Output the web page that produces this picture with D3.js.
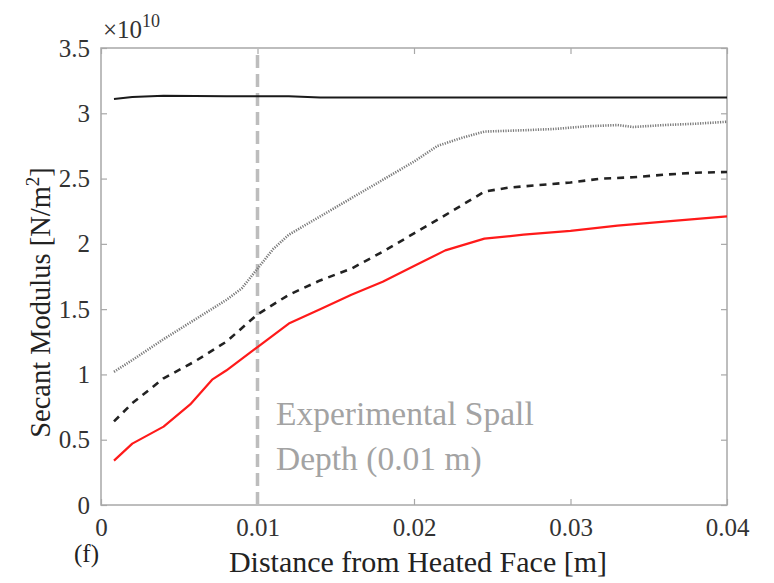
<!DOCTYPE html>
<html><head><meta charset="utf-8">
<script src="https://cdn.jsdelivr.net/npm/d3@7"></script>
<style>body{margin:0;background:#fff}svg{display:block}text{font-family:"Liberation Serif","Times New Roman",serif}</style>
</head><body><svg id="c" width="774" height="583"></svg>
<script>
const xTicks = [0, 0.01, 0.02, 0.03, 0.04];
const yTicks = [0, 0.5, 1, 1.5, 2, 2.5, 3, 3.5];
const xTickLabels = ["0", "0.01", "0.02", "0.03", "0.04"];
const yTickLabels = ["0", "0.5", "1", "1.5", "2", "2.5", "3", "3.5"];

const solidX = [0.00083, 0.002, 0.004, 0.008, 0.012, 0.014, 0.02, 0.03, 0.04];
const solidY = [3.11, 3.125, 3.135, 3.13, 3.13, 3.12, 3.12, 3.12, 3.12];

const dottedX = [0.00083, 0.002, 0.004, 0.006, 0.008, 0.009, 0.010, 0.011, 0.012, 0.014, 0.016, 0.018, 0.020, 0.0215, 0.023, 0.0245, 0.027, 0.029, 0.031, 0.033, 0.034, 0.036, 0.038, 0.040];
const dottedY = [1.02, 1.11, 1.27, 1.42, 1.57, 1.66, 1.81, 1.96, 2.07, 2.21, 2.35, 2.49, 2.63, 2.75, 2.81, 2.86, 2.87, 2.88, 2.90, 2.91, 2.895, 2.91, 2.92, 2.935];

const dashedX = [0.00083, 0.002, 0.004, 0.006, 0.008, 0.010, 0.012, 0.014, 0.016, 0.018, 0.020, 0.022, 0.0245, 0.026, 0.028, 0.030, 0.032, 0.034, 0.036, 0.038, 0.040];
const dashedY = [0.64, 0.78, 0.97, 1.10, 1.25, 1.46, 1.61, 1.72, 1.81, 1.94, 2.08, 2.22, 2.40, 2.43, 2.45, 2.47, 2.50, 2.51, 2.53, 2.545, 2.55];

const redX = [0.00083, 0.002, 0.004, 0.0057, 0.0071, 0.008, 0.010, 0.012, 0.014, 0.016, 0.018, 0.020, 0.022, 0.0245, 0.027, 0.030, 0.033, 0.036, 0.040];
const redY = [0.34, 0.47, 0.60, 0.77, 0.96, 1.03, 1.21, 1.39, 1.50, 1.61, 1.71, 1.83, 1.95, 2.04, 2.07, 2.10, 2.14, 2.17, 2.21];

const spallDepth = 0.01;

const L = 101, R = 727, T = 48, B = 505;
const svg = d3.select("#c");
const x = d3.scaleLinear().domain([0, 0.04]).range([L, R]);
const y = d3.scaleLinear().domain([0, 3.5]).range([B, T]);
const axisColor = "#a8a8a8";

// frame
svg.append("rect").attr("x", L).attr("y", T).attr("width", R - L).attr("height", B - T)
  .attr("fill", "none").attr("stroke", axisColor).attr("stroke-width", 1.5);

// axes
const gx = svg.append("g").attr("transform", `translate(0,${B})`)
  .call(d3.axisBottom(x).tickValues(xTicks).tickFormat((d, i) => xTickLabels[i]).tickSizeInner(-6).tickSizeOuter(0).tickPadding(13));
const gxt = svg.append("g").attr("transform", `translate(0,${T})`)
  .call(d3.axisTop(x).tickValues(xTicks).tickFormat("").tickSizeInner(-6).tickSizeOuter(0));
const gy = svg.append("g").attr("transform", `translate(${L},0)`)
  .call(d3.axisLeft(y).tickValues(yTicks).tickFormat((d, i) => yTickLabels[i]).tickSizeInner(-6).tickSizeOuter(0).tickPadding(11));
const gyr = svg.append("g").attr("transform", `translate(${R},0)`)
  .call(d3.axisRight(y).tickValues(yTicks).tickFormat("").tickSizeInner(-6).tickSizeOuter(0));
[gx, gxt, gy, gyr].forEach(g => {
  g.select(".domain").remove();
  g.selectAll(".tick line").attr("stroke", axisColor).attr("stroke-width", 1.2);
  g.selectAll(".tick text").attr("fill", "#333").style("font-size", "25px").style("font-family", "Liberation Serif, serif");
});

// spall depth line
svg.append("line").attr("x1", x(spallDepth)).attr("x2", x(spallDepth)).attr("y1", B).attr("y2", T)
  .attr("stroke", "#bdbdbd").attr("stroke-width", 3.5).attr("stroke-dasharray", "13,6");

const line = d3.line().x(d => x(d[0])).y(d => y(d[1])).curve(d3.curveLinear);
function series(xs, ys, color, w, dash) {
  const p = svg.append("path").datum(xs.map((v, i) => [v, ys[i]])).attr("d", line)
    .attr("fill", "none").attr("stroke", color).attr("stroke-width", w).attr("stroke-linejoin", "round");
  if (dash) p.attr("stroke-dasharray", dash);
}
series(solidX, solidY, "#1a1a1a", 2, null);
series(dottedX, dottedY, "#7a7a7a", 2.6, "1.2,1.3");
series(dashedX, dashedY, "#222", 2.6, "7,6");
series(redX, redY, "#ff1a1a", 2.2, null);

// annotation
svg.append("text").attr("x", 276).attr("y", 425).attr("fill", "#a3a3a3").style("font-size", "33.5px").text("Experimental Spall");
svg.append("text").attr("x", 276).attr("y", 470).attr("fill", "#a3a3a3").style("font-size", "33.5px").text("Depth (0.01 m)");

// exponent
const ex = svg.append("text").attr("x", 103).attr("y", 38).attr("fill", "#333").style("font-size", "25px");
ex.append("tspan").text("×10");
ex.append("tspan").attr("dy", -11).style("font-size", "18px").text("10");

// axis labels
svg.append("text").attr("x", (L + R) / 2 + 4).attr("y", 572).attr("text-anchor", "middle").attr("fill", "#222")
  .style("font-size", "30px").text("Distance from Heated Face [m]");
const yl = svg.append("text").attr("transform", `translate(50,${(T + B) / 2 + 26}) rotate(-90)`).attr("text-anchor", "middle")
  .attr("fill", "#222").style("font-size", "28.5px");
yl.append("tspan").text("Secant Modulus [N/m");
yl.append("tspan").attr("dy", -11).style("font-size", "19px").text("2");
yl.append("tspan").attr("dy", 11).text("]");

svg.append("text").attr("x", 74).attr("y", 562).attr("fill", "#222").style("font-size", "25px").text("(f)");
</script></body></html>
